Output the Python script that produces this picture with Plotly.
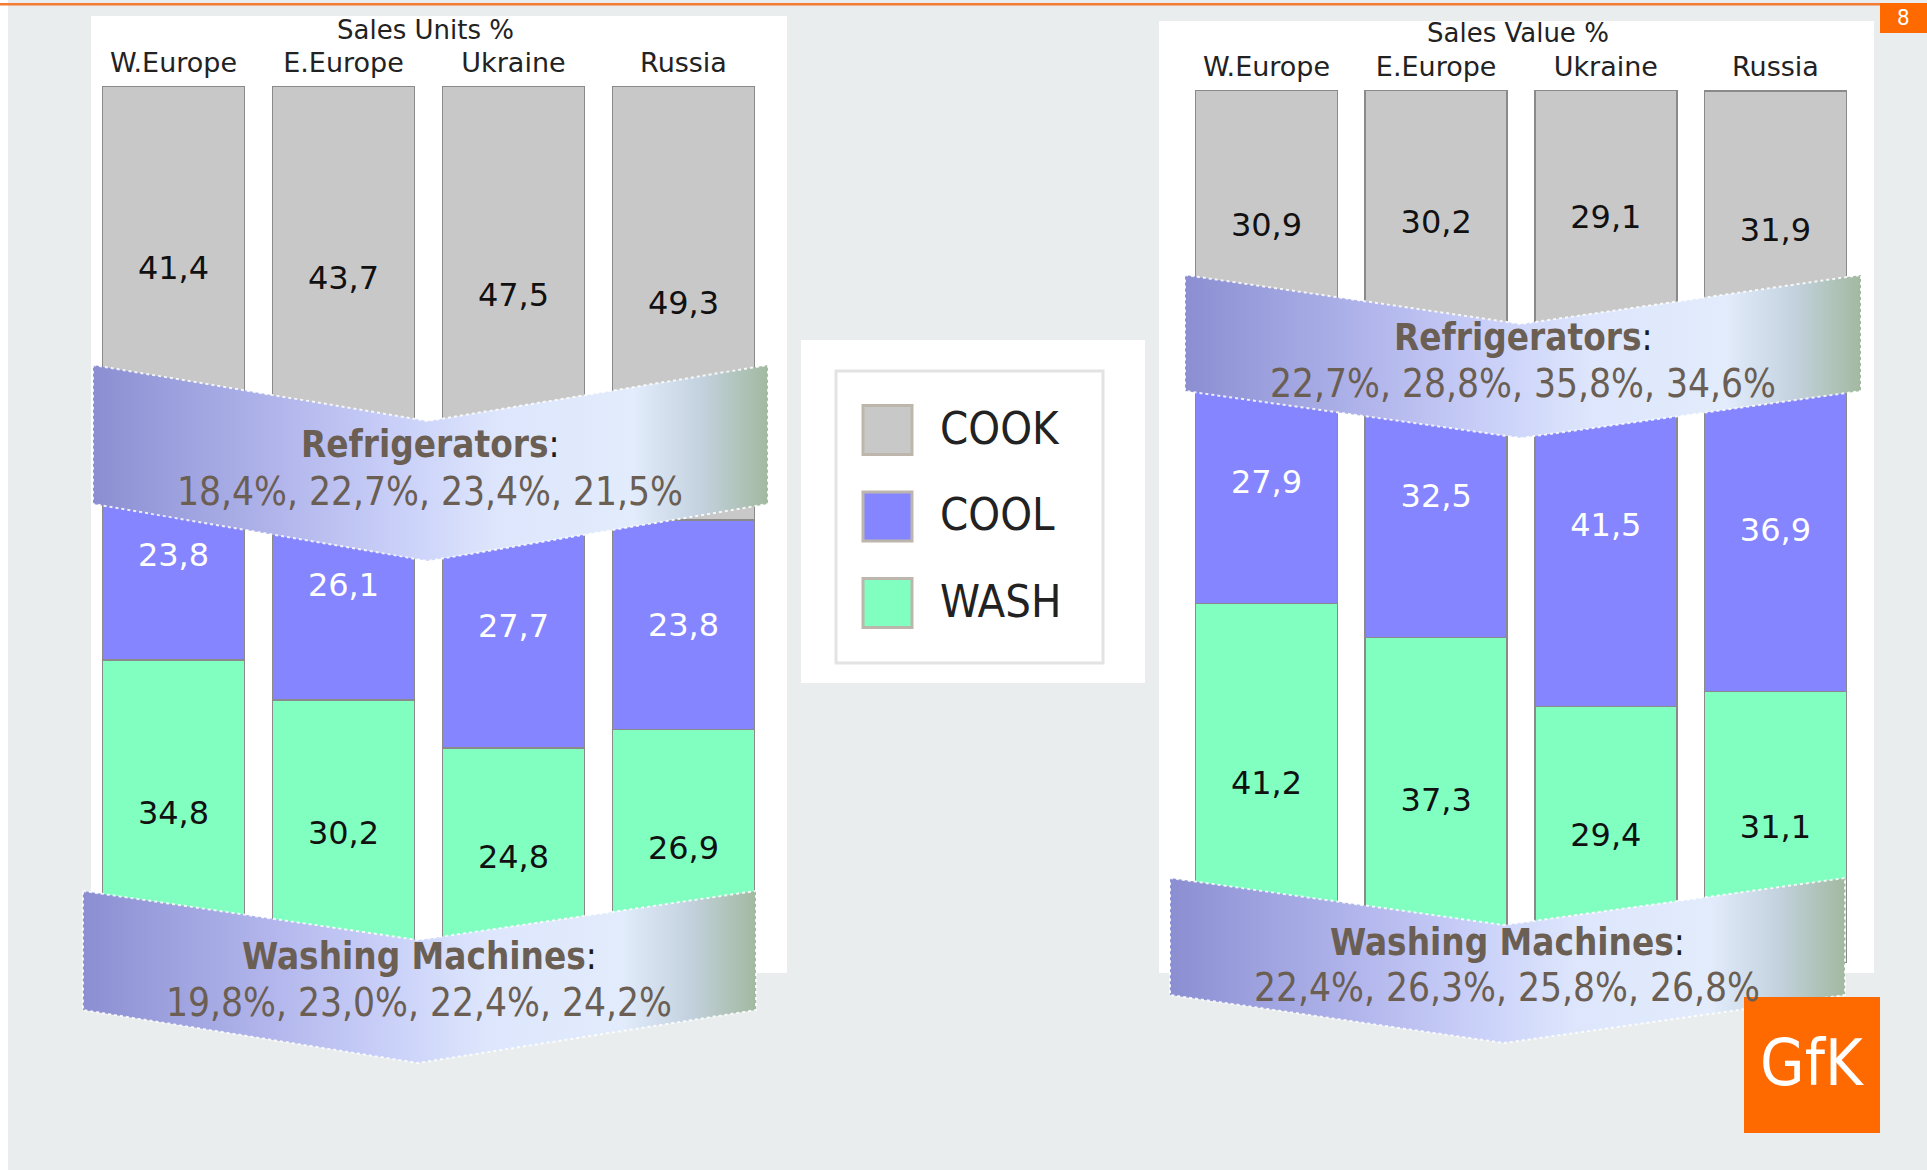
import plotly.graph_objects as go

# ---------------- data ----------------
regions = ["W.Europe", "E.Europe", "Ukraine", "Russia"]
series_names = ["COOK", "COOL", "WASH"]

units_cook = [41.4, 43.7, 47.5, 49.3]
units_cool = [23.8, 26.1, 27.7, 23.8]
units_wash = [34.8, 30.2, 24.8, 26.9]

value_cook = [30.9, 30.2, 29.1, 31.9]
value_cool = [27.9, 32.5, 41.5, 36.9]
value_wash = [41.2, 37.3, 29.4, 31.1]

units_fridge_share = [18.4, 22.7, 23.4, 21.5]
units_washer_share = [19.8, 23.0, 22.4, 24.2]
value_fridge_share = [22.7, 28.8, 35.8, 34.6]
value_washer_share = [22.4, 26.3, 25.8, 26.8]

units_title = "Sales Units %"
value_title = "Sales Value %"
fridge_label = "Refrigerators"
washer_label = "Washing Machines"
page_number = "8"
logo_text = "GfK"

# ---------------- styles ----------------
W, H = 1927, 1170
FONT = "DejaVu Sans, Verdana, sans-serif"
COND = "DejaVu Sans Condensed, DejaVu Sans, sans-serif"
series_colors = {"COOK": "#c8c8c8", "COOL": "#8585ff", "WASH": "#80ffc0"}
label_colors = {"COOK": "#111111", "COOL": "#ffffff", "WASH": "#111111"}
CHEV_SCALE = [[0.0, "#8b8fd2"], [0.28, "#b2b6ec"], [0.48, "#cdd4fa"],
              [0.6, "#dde6fc"], [0.8, "#e2ecfc"], [0.9, "#c4d2df"], [1.0, "#a2b9a0"]]
CHEV_TEXT = "#6b5e53"


def px(x):
    return x / W


def py(y):
    return 1 - y / H


def pct(v):
    return f"{v:.1f}".replace(".", ",") + "%"


fig = go.Figure()


def add_stack(cook, cool, wash, xa, ya):
    data = {"COOK": cook, "COOL": cool, "WASH": wash}
    for name in reversed(series_names):
        fig.add_trace(go.Bar(
            x=regions, y=data[name], name=name, xaxis=xa, yaxis=ya,
            marker=dict(color=series_colors[name], line=dict(color="#8a8a8a", width=1.5)),
            texttemplate="%{y:.1f}", textposition="inside", insidetextanchor="middle",
            textangle=0, textfont=dict(family=FONT, size=32, color=label_colors[name]),
            showlegend=False, hoverinfo="skip"))


add_stack(units_cook, units_cool, units_wash, "x", "y")
add_stack(value_cook, value_cool, value_wash, "x2", "y2")


# ---------------- chevron banners (decorative, pixel overlay axes) ----------------
def chevron(x0, x1, xc, top_side, top_c, bot_side, bot_c):
    xs = [x0, xc, x1, x1, xc, x0, x0]
    ys = [top_side, top_c, top_side, bot_side, bot_c, bot_side, top_side]
    fig.add_trace(go.Scatter(
        x=xs, y=ys, xaxis="x3", yaxis="y3", mode="lines", fill="toself",
        fillgradient=dict(type="horizontal", colorscale=CHEV_SCALE, start=x0, stop=x1),
        line=dict(color="rgba(255,255,255,0.85)", width=2, dash="dot"),
        hoverinfo="skip", showlegend=False))


chevron(93, 768, 428, 365, 421, 504, 561)
chevron(83, 756, 418, 891, 940, 1010, 1063)
chevron(1185, 1861, 1521, 275, 324, 391, 438)
chevron(1170, 1845, 1504, 878, 925, 995, 1043)

shapes = []
annotations = []

# background strip and panels
shapes.append(dict(type="rect", xref="paper", yref="paper", x0=0, x1=px(8), y0=0, y1=1,
                   fillcolor="#ffffff", line=dict(width=0), layer="below"))
for (x0, x1, y0, y1) in [(91, 787, 16, 973), (1159, 1874, 21, 973)]:
    shapes.append(dict(type="rect", xref="paper", yref="paper", x0=px(x0), x1=px(x1),
                       y0=py(y1), y1=py(y0), fillcolor="#ffffff", line=dict(width=0),
                       layer="below"))

# orange top line and page number box
shapes.append(dict(type="rect", xref="paper", yref="paper", x0=0, x1=px(1880),
                   y0=py(5.5), y1=py(3), fillcolor="#f47b31", line=dict(width=0), layer="above"))
shapes.append(dict(type="rect", xref="paper", yref="paper", x0=px(1880), x1=1,
                   y0=py(33), y1=py(3), fillcolor="#ff6a00", line=dict(width=0), layer="above"))
annotations.append(dict(text=page_number, xref="paper", yref="paper", x=px(1903.5), y=py(18),
                        showarrow=False, xanchor="center", yanchor="middle",
                        font=dict(family=COND, size=22, color="#ffffff")))

# GfK logo
shapes.append(dict(type="rect", xref="paper", yref="paper", x0=px(1744), x1=px(1880),
                   y0=py(1133), y1=py(997), fillcolor="#ff6a00", line=dict(width=0), layer="above"))
annotations.append(dict(text=logo_text, xref="paper", yref="paper", x=px(1812), y=py(1063),
                        showarrow=False, xanchor="center", yanchor="middle",
                        font=dict(family=COND, size=64, color="#ffffff")))

# legend (manual)
shapes.append(dict(type="rect", xref="paper", yref="paper", x0=px(801), x1=px(1145),
                   y0=py(683), y1=py(340), fillcolor="#ffffff", line=dict(width=0), layer="below"))
shapes.append(dict(type="rect", xref="paper", yref="paper", x0=px(836), x1=px(1103),
                   y0=py(663), y1=py(371), fillcolor="#ffffff",
                   line=dict(color="#e3e3e3", width=3), layer="below"))
for i, name in enumerate(series_names):
    cy = 430 + 86.5 * i
    shapes.append(dict(type="rect", xref="paper", yref="paper", x0=px(863), x1=px(912),
                       y0=py(cy + 24.5), y1=py(cy - 24.5), fillcolor=series_colors[name],
                       line=dict(color="#bdb6ad", width=3), layer="above"))
    annotations.append(dict(text=name, xref="paper", yref="paper", x=px(938), y=py(cy - 2),
                            showarrow=False, xanchor="left", yanchor="middle",
                            font=dict(family=COND, size=45, color="#222222")))

# chart titles
annotations.append(dict(text=units_title, xref="paper", yref="paper", x=px(425), y=py(30),
                        showarrow=False, xanchor="center", yanchor="middle",
                        font=dict(family=FONT, size=26, color="#222222")))
annotations.append(dict(text=value_title, xref="paper", yref="paper", x=px(1518), y=py(33),
                        showarrow=False, xanchor="center", yanchor="middle",
                        font=dict(family=FONT, size=26, color="#222222")))


# banner texts
def banner_text(label, shares, cx, y1, y2):
    annotations.append(dict(
        text=f"<b>{label}</b><span style='color:#1a1a1a'>:</span>", xref="paper", yref="paper",
        x=px(cx), y=py(y1), showarrow=False, xanchor="center", yanchor="middle",
        font=dict(family=COND, size=36.5, color=CHEV_TEXT)))
    annotations.append(dict(
        text=", ".join(pct(v) for v in shares), xref="paper", yref="paper",
        x=px(cx), y=py(y2), showarrow=False, xanchor="center", yanchor="middle",
        font=dict(family=COND, size=38.5, color=CHEV_TEXT)))


banner_text(fridge_label, units_fridge_share, 430, 444, 491)
banner_text(washer_label, units_washer_share, 419, 956, 1002)
banner_text(fridge_label, value_fridge_share, 1523, 338, 384)
banner_text(washer_label, value_washer_share, 1507, 942, 987)

cat_axis = dict(side="top", showgrid=False, zeroline=False, showline=False, ticks="",
                tickfont=dict(family=FONT, size=27, color="#222222"), fixedrange=True,
                ticklabelstandoff=8)
val_axis = dict(range=[0, 100], visible=False, fixedrange=True)

fig.update_layout(
    width=W, height=H, margin=dict(l=0, r=0, t=0, b=0),
    paper_bgcolor="#e9eded", plot_bgcolor="rgba(0,0,0,0)",
    barmode="stack", bargap=0.163, separators=",.",
    uniformtext=dict(mode=False),
    xaxis=dict(domain=[px(88.5), px(768.5)], anchor="y", **cat_axis),
    yaxis=dict(domain=[py(966), py(86)], anchor="x", **val_axis),
    xaxis2=dict(domain=[px(1181.7), px(1860.3)], anchor="y2", **cat_axis),
    yaxis2=dict(domain=[py(963), py(90)], anchor="x2", **val_axis),
    xaxis3=dict(domain=[0, 1], range=[0, W], visible=False, anchor="y3", fixedrange=True),
    yaxis3=dict(domain=[0, 1], range=[H, 0], visible=False, anchor="x3", fixedrange=True),
    shapes=shapes, annotations=annotations, showlegend=False,
)

fig.write_html("out.html", config={"displayModeBar": False})
